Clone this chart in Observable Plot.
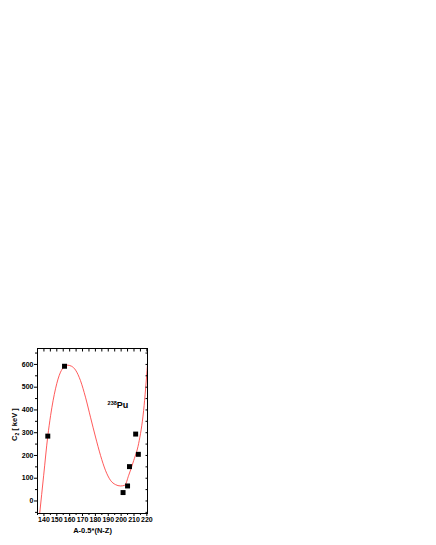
<!DOCTYPE html>
<html>
<head>
<meta charset="utf-8">
<script src="https://cdn.jsdelivr.net/npm/d3@7"></script>
<script src="https://cdn.jsdelivr.net/npm/@observablehq/plot@0.6"></script>
<style>
body { margin: 0; background: #fff; }
svg { display: block; }
</style>
</head>
<body>
<div id="chart"></div>
<script>
// Data points (squares)
const pointX = [143, 156, 201.5, 205, 206.5, 211.3, 213.4];
const pointY = [285, 592, 37, 66, 151, 294, 205];

// Fitted curve
const curveX = [136.7, 139.8, 143, 145.2, 149, 152.9, 158, 161.5, 164.6, 168.4, 172.3, 176.2, 180.1, 184, 187.8, 191.7, 195.6, 199.5, 202.8, 205.9, 209.8, 213.6, 217.5, 220.5];
const curveY = [-55, 113, 285, 376, 493, 566, 597, 592, 575, 529, 456, 368, 281, 200, 135, 91, 72, 66, 69, 113, 178, 252, 398, 600];

const xTicks = [140, 150, 160, 170, 180, 190, 200, 210, 220];
const xMinor = [135, 145, 155, 165, 175, 185, 195, 205, 215];
const yTicks = [0, 100, 200, 300, 400, 500, 600];
const yMinor = [-50, 50, 150, 250, 350, 450, 550, 650];

const points = pointX.map((x, i) => ({x, y: pointY[i]}));
const curve = curveX.map((x, i) => ({x, y: curveY[i]}));

const font = "'Liberation Sans', Arial, sans-serif";

const plot = Plot.plot({
  width: 436,
  height: 545,
  marginLeft: 37,
  marginRight: 289,
  marginTop: 348,
  marginBottom: 32,
  style: {fontFamily: font, fontSize: "7px", fontWeight: "bold", color: "#000", background: "#fff"},
  x: {domain: [135, 220.5]},
  y: {domain: [-55, 670]},
  marks: [
    Plot.line(curve, {x: "x", y: "y", stroke: "#ff3030", strokeWidth: 0.8, curve: "monotone-x"}),
    Plot.dot(points, {x: "x", y: "y", symbol: "square", r: 2.8, fill: "#000", stroke: null}),
    Plot.text(["Pu"], {x: 189.5, y: 420, text: d => d, textAnchor: "start", fontSize: 9, fontWeight: "bold", className: "nuc"}),
    // bottom axis
    Plot.axisX({ticks: xTicks, tickSize: 3, tickPadding: 1, label: null, fontSize: 7}),
    Plot.axisX({ticks: xMinor, tickSize: 2, text: null, label: null}),
    Plot.axisX({anchor: "top", ticks: xTicks.concat(xMinor), tickSize: -2.5, text: null, label: null}),
    // left axis
    Plot.axisY({ticks: yTicks, tickSize: 3, tickPadding: 1, label: null, fontSize: 7}),
    Plot.axisY({ticks: yMinor.filter(v => v > -55 && v < 670), tickSize: 2, text: null, label: null}),
    Plot.axisY({anchor: "right", ticks: yTicks.concat(yMinor).filter(v => v > -55 && v < 670), tickSize: -2.5, text: null, label: null}),
    Plot.frame({stroke: "#000", strokeWidth: 1}),
    // axis labels
    Plot.text(["A-0.5*(N-Z)"], {frameAnchor: "bottom", dy: 19, text: d => d, fontSize: 7.5, fontWeight: "bold"}),
    Plot.text(["C [ keV ]"], {frameAnchor: "left", dx: -23, dy: 10, rotate: -90, text: d => d, fontSize: 7.5, fontWeight: "bold", className: "ylab"})
  ]
});
document.getElementById("chart").appendChild(plot);

// superscript mass number and subscript index as tspans
const ns = "http://www.w3.org/2000/svg";
const nuc = plot.querySelector(".nuc text");
if (nuc) {
  const t = nuc.textContent;
  nuc.textContent = "";
  const sup = document.createElementNS(ns, "tspan");
  sup.setAttribute("font-size", "5.5");
  sup.setAttribute("dy", "-3");
  sup.textContent = "238";
  const base = document.createElementNS(ns, "tspan");
  base.setAttribute("dy", "3");
  base.textContent = t;
  nuc.appendChild(sup);
  nuc.appendChild(base);
}
const yl = plot.querySelector(".ylab text");
if (yl) {
  yl.textContent = "";
  const a = document.createElementNS(ns, "tspan");
  a.textContent = "C";
  const s = document.createElementNS(ns, "tspan");
  s.setAttribute("font-size", "5");
  s.setAttribute("dy", "2");
  s.textContent = "2";
  const b = document.createElementNS(ns, "tspan");
  b.setAttribute("dy", "-2");
  b.textContent = " [ keV ]";
  yl.appendChild(a); yl.appendChild(s); yl.appendChild(b);
}
</script>
</body>
</html>
